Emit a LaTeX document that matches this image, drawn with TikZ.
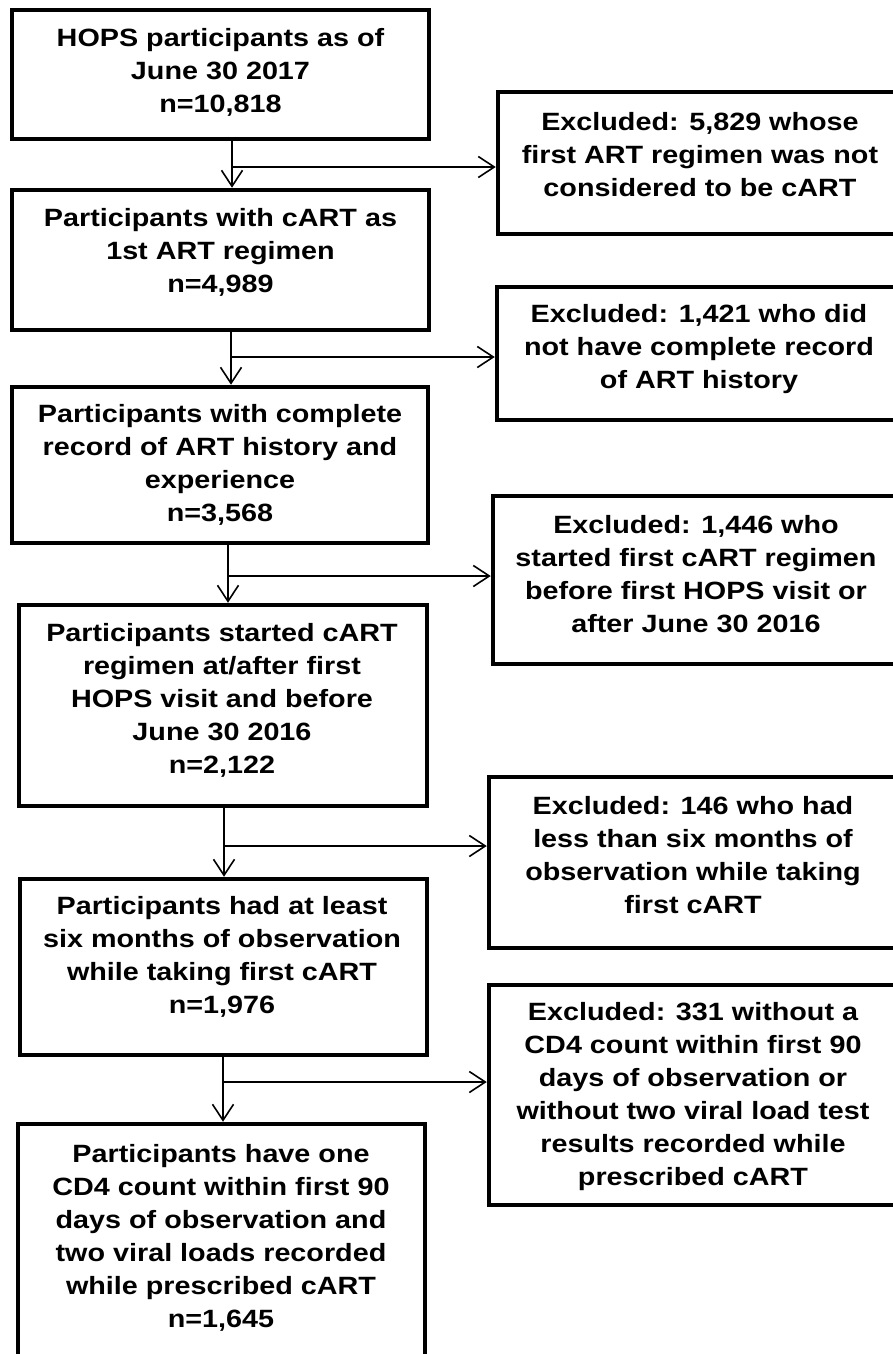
\documentclass[tikz,border=0pt]{standalone}
\usepackage{fontspec}
\setmainfont{Liberation Sans}[FakeStretch=1.15]
\usetikzlibrary{arrows.meta}
\tikzset{
  box/.style={draw=black, line width=4.5pt, rectangle, inner sep=0pt, fill=white},
  txt/.style={align=center, inner sep=0pt, font=\fontsize{25}{33}\selectfont\bfseries},
  conn/.style={line width=1.6pt, -{Straight Barb[length=16pt,width=21pt,line width=1.6pt]}},
  seg/.style={line width=1.6pt}
}
\begin{document}
\begin{tikzpicture}[x=1pt,y=-1pt]
\useasboundingbox (0,0) rectangle (893,1354);
\clip (0,0) rectangle (893,1354);
\fill[white] (0,0) rectangle (893,1354);

% left boxes
\node[box, minimum width=417pt, minimum height=129pt] (b1) at (220.5,74.5) {};
\node[box, minimum width=417pt, minimum height=140pt] (b2) at (220.5,260) {};
\node[box, minimum width=416pt, minimum height=156pt] (b3) at (220,465) {};
\node[box, minimum width=408pt, minimum height=201pt] (b4) at (223,705.5) {};
\node[box, minimum width=407pt, minimum height=176pt] (b5) at (223.5,967) {};
\node[box, minimum width=407pt, minimum height=246pt] (b6) at (221.5,1247) {};

% right boxes
\node[box, minimum width=398pt, minimum height=142pt] (e1) at (697,163) {};
\node[box, minimum width=399pt, minimum height=133pt] (e2) at (696.5,353.5) {};
\node[box, minimum width=403pt, minimum height=168pt] (e3) at (694.5,580) {};
\node[box, minimum width=407pt, minimum height=171pt] (e4) at (692.5,862.5) {};
\node[box, minimum width=407pt, minimum height=220pt] (e5) at (692.5,1095) {};

% texts
\node[txt] (t1) at (220.5,72) {HOPS participants as of\\June 30 2017\\n=10,818};
\node[txt] (t2) at (220.5,252) {Participants with cART as\\1st ART regimen\\n=4,989};
\node[txt] (t3) at (220,465) {Participants with complete\\record of ART history and\\experience\\n=3,568};
\node[txt] (t4) at (222,700) {Participants started cART\\regimen at/after first\\HOPS visit and before\\June 30 2016\\n=2,122};
\node[txt] (t5) at (222,957) {Participants had at least\\six months of observation\\while taking first cART\\n=1,976};
\node[txt] (t6) at (221,1238) {Participants have one\\CD4 count within first 90\\days of observation and\\two viral loads recorded\\while prescribed cART\\n=1,645};

\node[txt] (u1) at (700,155) {Excluded: 5,829 whose\\first ART regimen was not\\considered to be cART};
\node[txt] (u2) at (699,349) {Excluded: 1,421 who did\\not have complete record\\of ART history};
\node[txt] (u3) at (696,574) {Excluded: 1,446 who\\started first cART regimen\\before first HOPS visit or\\after June 30 2016};
\node[txt] (u4) at (693,855) {Excluded: 146 who had\\less than six months of\\observation while taking\\first cART};
\node[txt] (u5) at (693,1097) {Excluded: 331 without a\\CD4 count within first 90\\days of observation or\\without two viral load test\\results recorded while\\prescribed cART};

% junction coordinates
\coordinate (j1) at (232,167);
\coordinate (j2) at (231,357);
\coordinate (j3) at (228,576);
\coordinate (j4) at (224,846);
\coordinate (j5) at (223,1082);

% connectors
\draw[conn] (j1 |- b1.south) -- (j1 |- b2.north);
\draw[conn] (j1) -- (j1 -| e1.west);
\draw[conn] (j2 |- b2.south) -- (j2 |- b3.north);
\draw[conn] (j2) -- (j2 -| e2.west);
\draw[conn] (j3 |- b3.south) -- (j3 |- b4.north);
\draw[conn] (j3) -- (j3 -| e3.west);
\draw[conn] (j4 |- b4.south) -- (j4 |- b5.north);
\draw[conn] (j4) -- (j4 -| e4.west);
\draw[conn] (j5 |- b5.south) -- (j5 |- b6.north);
\draw[conn] (j5) -- (j5 -| e5.west);
\end{tikzpicture}
\end{document}
